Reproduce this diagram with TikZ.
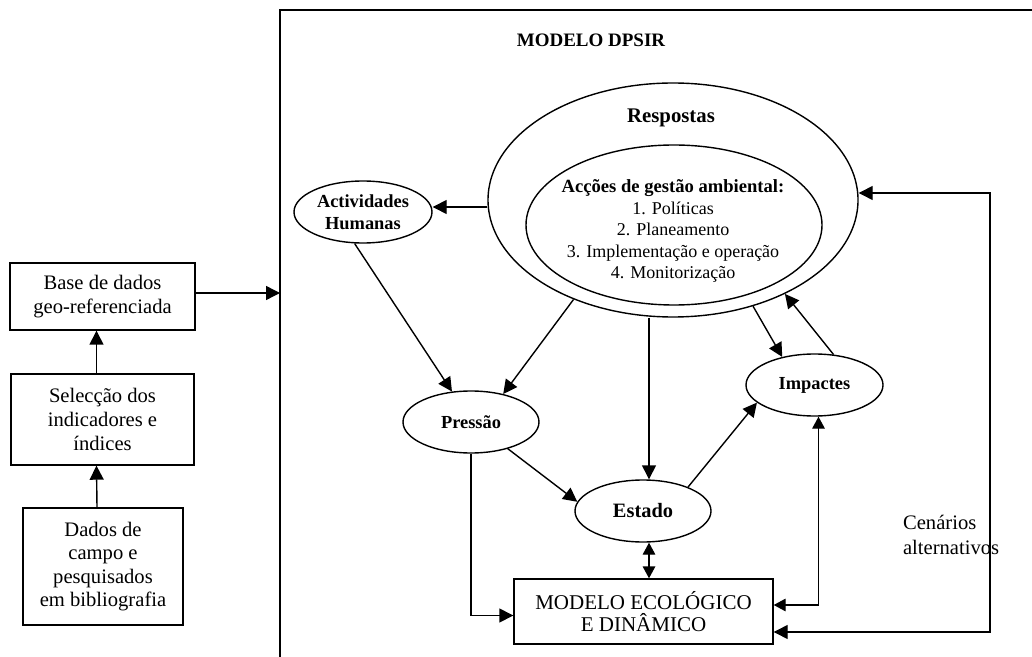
\documentclass[tikz,border=0pt]{standalone}
\usepackage{fontspec}
\setmainfont{Liberation Serif}
\usetikzlibrary{positioning,calc}
\usetikzlibrary{arrows.meta,shapes.geometric}
\tikzset{
	box/.style={draw,line width=0.7pt,inner sep=0pt,align=center,font=\fontsize{10.3}{11.8}\selectfont},
	oval/.style={ellipse,draw,line width=0.7pt,inner sep=0pt,align=center,minimum width=69pt,minimum height=31pt,font=\bfseries\fontsize{9.2}{11}\selectfont},
	arr/.style={draw,line width=0.7pt,-{Triangle[length=7pt,width=7pt]}},
	dblarr/.style={draw,line width=0.7pt,{Triangle[length=7pt,width=7pt]}-{Triangle[length=7pt,width=7pt]}},
	smallarr/.style={draw,line width=0.7pt,{Triangle[length=6pt,width=6.3pt]}-{Triangle[length=6pt,width=6.3pt]}},
}

\begin{document}
\begin{tikzpicture}[x=0.5pt,y=-0.5pt]
	\useasboundingbox (0,0) rectangle (1032,657);
	\draw[line width=0.7pt] (280,657) -- (280,10) -- (1032,10);
	\node[font=\bfseries\fontsize{9.5}{11}\selectfont] (dpsir) at (591,40) {MODELO DPSIR};
	% left column
	\node[box,minimum width=92.5pt,minimum height=33.5pt] (base) at (102.5,296.5) {Base de dados\\geo-referenciada};
	\node[box,minimum width=91.5pt,minimum height=45.5pt] (sel) at (102.5,419.5) {Selecção dos\\indicadores e\\índices};
	\node[box,minimum width=80pt,minimum height=58.5pt] (dados) at (103,566.5) {Dados de\\campo e\\pesquisados\\em bibliografia};
	\coordinate (frameIn) at (280,293);
	\draw[arr] ([xshift=-3pt]dados.north) -- ([xshift=-3pt]sel.south);
	\draw[arr] ([xshift=-3pt]sel.north) -- ([xshift=-3pt]base.south);
	\draw[arr] (frameIn -| base.east) -- (frameIn);
	% respostas
	\node[ellipse,draw,line width=0.7pt,minimum width=185pt,minimum height=117pt] (resp) at (673,200) {};
	\node[font=\bfseries\fontsize{10.4}{12}\selectfont] (respT) at (671,118) {Respostas};
	\node[ellipse,draw,line width=0.7pt,minimum width=148pt,minimum height=80pt] (acc) at (674,225) {};
	\node[align=center,font=\fontsize{9}{10.75}\selectfont] (accT) at (673,231) {{\bfseries\fontsize{9.3}{10.75}\selectfont Acções de gestão ambiental:}\\1. Políticas\\2. Planeamento\\3. Implementação e operação\\4. Monitorização};
	% dpsir nodes
	\node[oval] (act) at (363,212) {Actividades\\Humanas};
	\node[oval,minimum width=68pt] (pres) at (471,422) {Pressão};
	\node[oval,minimum width=68pt,font=\bfseries\fontsize{10.2}{12}\selectfont] (est) at (643,511) {Estado};
	\node[oval,minimum width=68.5pt] (imp) at (814.5,385) {Impactes};
	\node[box,minimum width=129.5pt,minimum height=32.5pt,font=\fontsize{10.5}{10.75}\selectfont] (mod) at (643.5,611.5) {MODELO ECOLÓGICO\\E DINÂMICO};
	\node[align=left,anchor=west,font=\fontsize{10.3}{12.5}\selectfont] (cen) at (896,534.5) {Cenários\\alternativos};
	\coordinate (loopTR) at (990,193);
	\draw[arr] ([yshift=-3.5pt]resp.west) -- ([yshift=-3.5pt]resp.west -| act.east);
	\draw[arr] (act.255) -- (pres.122);
	\draw[arr] (resp.225) -- (pres.41);
	\draw[arr] ([xshift=3pt]est.north |- resp.south) -- ([xshift=3pt]est.north);
	\draw[arr] (resp.-53) -- (imp.139);
	\draw[arr] (imp.58) -- (resp.-40);
	\draw[arr] (pres.-36) -- (est.172);
	\draw[arr] (est.28) -- (imp.197);
	\draw[smallarr] ([xshift=3pt]est.south) -- ([xshift=3pt]est.south |- mod.north);
	\draw[arr] (pres.south) |- ([yshift=-2pt]mod.west);
	\draw[smallarr] ([xshift=2pt]imp.south) |- ([yshift=3.25pt]mod.east);
	\draw[dblarr] ([yshift=-10.25pt]mod.east) -| (loopTR) -- (loopTR -| resp.east);
\end{tikzpicture}
\end{document}
